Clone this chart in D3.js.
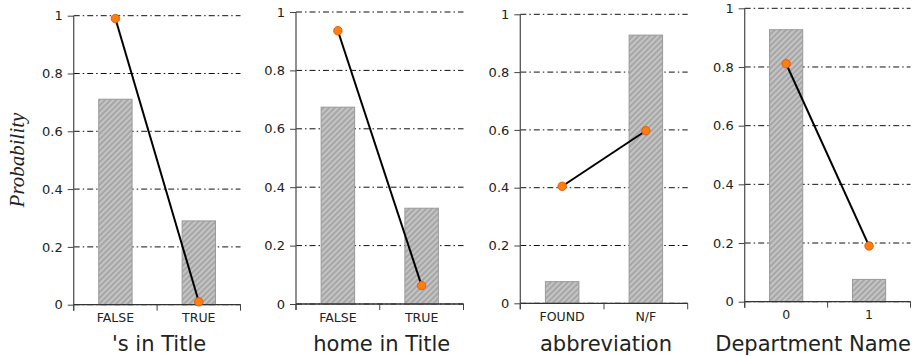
<!DOCTYPE html>
<html><head><meta charset="utf-8">
<script src="https://cdn.jsdelivr.net/npm/d3@7"></script>
<style>body{margin:0;background:#fff}svg{display:block}</style>
</head><body>
<svg id="c" width="912" height="356"></svg>
<script>
// ---- data ----
const panelTitles = ["'s in Title", "home in Title", "abbreviation", "Department Name"];
const categories = [["FALSE","TRUE"],["FALSE","TRUE"],["FOUND","N/F"],["0","1"]];
const barValues = [[0.711,0.290],[0.674,0.328],[0.075,0.928],[0.927,0.076]];
const pointValues = [[0.990,0.010],[0.936,0.063],[0.405,0.597],[0.811,0.190]];
const yTicks = [0,0.2,0.4,0.6,0.8,1];
const yTickLabels = ["0","0.2","0.4","0.6","0.8","1"];
const yAxisTitle = "Probability";

// ---- layout ----
const geom = [
  {x0:73.7, x1:240.5, top:15.7, bot:304.7},
  {x0:296,  x1:463.5, top:12.0, bot:304.0},
  {x0:520.3,x1:687.7, top:14.3, bot:303.3},
  {x0:744.7,x1:910.5, top:8.3,  bot:301.7}
];
const svg = d3.select("#c");
const defs = svg.append("defs");
const pat = defs.append("pattern").attr("id","hatch").attr("patternUnits","userSpaceOnUse")
  .attr("width",4).attr("height",4).attr("patternTransform","rotate(45)");
pat.append("rect").attr("width",4).attr("height",4).attr("fill","#c4c4c4");
pat.append("line").attr("x1",1).attr("y1",0).attr("x2",1).attr("y2",4).attr("stroke","#9a9a9a").attr("stroke-width",1.4);

const textCol = "#222";

geom.forEach((g,i)=>{
  const x = d3.scaleBand().domain(categories[i]).range([g.x0,g.x1]).padding(0);
  const y = d3.scaleLinear().domain([0,1]).range([g.bot,g.top]);
  const gp = svg.append("g");

  // gridlines
  gp.append("g").selectAll("line").data(yTicks).join("line")
    .attr("x1",g.x0).attr("x2",g.x1).attr("y1",d=>y(d)).attr("y2",d=>y(d))
    .attr("stroke","#111").attr("stroke-width",1).attr("stroke-dasharray","6,3,1.5,3");

  // bars
  const bw = x.bandwidth()*0.4;
  gp.append("g").selectAll("rect").data(categories[i]).join("rect")
    .attr("x",d=>x(d)+x.bandwidth()/2-bw/2).attr("width",bw)
    .attr("y",(d,j)=>y(barValues[i][j])).attr("height",(d,j)=>y(0)-y(barValues[i][j]))
    .attr("fill","url(#hatch)").attr("stroke","#999").attr("stroke-width",1);

  // y axis
  const ya = d3.axisLeft(y).tickValues(yTicks).tickFormat((d,k)=>yTickLabels[k]).tickSize(6).tickPadding(5);
  const yg = gp.append("g").attr("transform",`translate(${g.x0},0)`).call(ya);
  yg.select(".domain").attr("d",`M0,${g.top}V${g.bot+6}`).attr("stroke","#555").attr("stroke-width",1.3);
  yg.selectAll(".tick line").attr("stroke","#444");
  yg.selectAll("text").attr("font-family","DejaVu Sans").attr("font-size",13).attr("fill",textCol);

  // x axis
  const boundaries = [g.x0, ...categories[i].slice(1).map(c=>x(c)), g.x1];
  gp.append("line").attr("x1",g.x0).attr("x2",g.x1).attr("y1",g.bot).attr("y2",g.bot)
    .attr("stroke","#333").attr("stroke-width",1.3);
  gp.append("g").selectAll("line").data(boundaries).join("line")
    .attr("x1",d=>d).attr("x2",d=>d).attr("y1",g.bot).attr("y2",g.bot+6)
    .attr("stroke","#444").attr("stroke-width",1);
  gp.append("g").selectAll("text").data(categories[i]).join("text")
    .attr("x",d=>x(d)+x.bandwidth()/2).attr("y",g.bot+17.5)
    .attr("text-anchor","middle").attr("font-family","DejaVu Sans").attr("font-size",12.5)
    .attr("fill",textCol).text(d=>d);

  // axis title (kept inside the picture)
  const cx = (g.x0+g.x1)/2+2;
  const t = gp.append("text").attr("x",cx).attr("y",351).attr("text-anchor","middle")
    .attr("font-family","DejaVu Sans").attr("font-size",21).attr("fill",textCol).text(panelTitles[i]);
  const w = t.node().getComputedTextLength();
  if (cx + w/2 > 911) t.attr("x", 911 - w/2);

  // line + points
  const line = d3.line().x(d=>x(d[0])+x.bandwidth()/2).y(d=>y(d[1]));
  const pts = categories[i].map((c,j)=>[c,pointValues[i][j]]);
  gp.append("path").attr("d",line(pts)).attr("fill","none").attr("stroke","#000").attr("stroke-width",2);
  gp.append("g").selectAll("circle").data(pts).join("circle")
    .attr("cx",d=>x(d[0])+x.bandwidth()/2).attr("cy",d=>y(d[1])).attr("r",4.2)
    .attr("fill","#ff7f0e").attr("stroke","#e8590c").attr("stroke-width",1);
});

// y axis title
svg.append("text").attr("transform","translate(24,160) rotate(-90)").attr("text-anchor","middle")
  .attr("font-family","Liberation Serif").attr("font-style","italic").attr("font-size",21)
  .attr("fill",textCol).text(yAxisTitle);
</script>
</body></html>
